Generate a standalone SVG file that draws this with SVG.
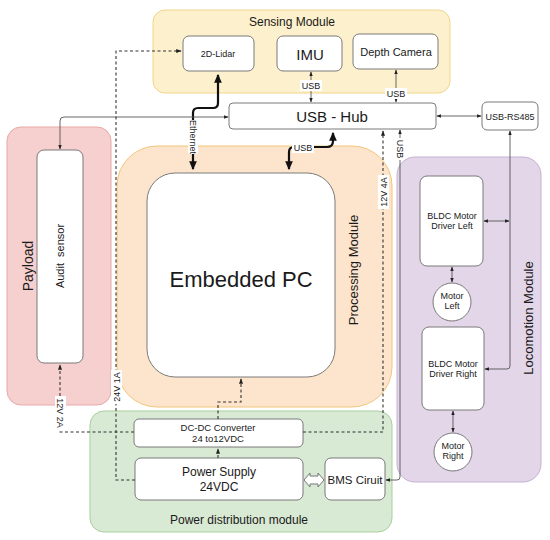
<svg xmlns="http://www.w3.org/2000/svg" width="550" height="540" viewBox="0 0 550 540">
<style>
text{font-family:"Liberation Sans",Arial,sans-serif;fill:#1a1a1a}
.box{fill:#fff;stroke:#7a7a7a;stroke-width:1}
.thin{fill:none;stroke:#555;stroke-width:0.9}
.dash{fill:none;stroke:#333;stroke-width:1.1;stroke-dasharray:3,2.5}
.thick{fill:none;stroke:#111;stroke-width:2.2}
.lbl{font-size:9px;text-anchor:middle}
.lblbg{fill:#fff}
</style>
<defs>
<marker id="a" viewBox="0 0 8 8" refX="7" refY="4" markerWidth="5" markerHeight="5" orient="auto-start-reverse"><path d="M0,1 L8,4 L0,7 Z" fill="#222"/></marker>
<marker id="ab" viewBox="0 0 8 8" refX="7" refY="4" markerWidth="4" markerHeight="4" orient="auto-start-reverse"><path d="M0,0.5 L8,4 L0,7.5 Z" fill="#111"/></marker>
</defs>

<g id="sensing-module">
<rect x="153" y="10" width="297" height="83" rx="12" fill="#fdf0cc" stroke="#f0d68a"/>
<text x="292" y="26" font-size="12" text-anchor="middle">Sensing Module</text>
</g>
<g id="payload">
<rect x="7" y="127" width="104" height="278" rx="14" fill="#f6cfcf" stroke="#e8a7a7"/>
<text transform="translate(33,266) rotate(-90)" font-size="14" text-anchor="middle">Payload</text>
</g>
<g id="processing-module">
<rect x="117" y="146" width="275" height="261" rx="40" fill="#fde5cd" stroke="#f2c67a"/>
<text transform="translate(358,270) rotate(-90)" font-size="13" text-anchor="middle">Processing Module</text>
</g>
<g id="locomotion-module">
<rect x="397" y="157" width="144" height="325" rx="18" fill="#e3d6e8" stroke="#c4b0d0"/>
<text transform="translate(533,318) rotate(-90)" font-size="13" text-anchor="middle">Locomotion Module</text>
</g>
<g id="power-module">
<rect x="90" y="411" width="302" height="121" rx="14" fill="#d8e9d4" stroke="#a9cf9c"/>
<text x="239" y="524" font-size="12" text-anchor="middle">Power distribution module</text>
</g>

<g id="lidar"><rect class="box" x="183" y="36" width="71" height="35" rx="6"/><text x="218" y="57" font-size="9" text-anchor="middle">2D-Lidar</text></g>
<g id="imu"><rect class="box" x="277" y="36" width="65" height="35" rx="6"/><text x="310" y="60" font-size="15" text-anchor="middle">IMU</text></g>
<g id="depth-camera"><rect class="box" x="353" y="34" width="85" height="35" rx="6"/><text x="396" y="56" font-size="11" text-anchor="middle">Depth Camera</text></g>
<g id="usb-hub"><rect class="box" x="229" y="103" width="207" height="26" rx="4"/><text x="332" y="122" font-size="15" text-anchor="middle">USB - Hub</text></g>
<g id="usb-rs485"><rect class="box" x="482" y="102" width="56" height="28" rx="5"/><text x="510" y="120" font-size="9" text-anchor="middle">USB-RS485</text></g>
<g id="audit-sensor"><rect class="box" x="37" y="150" width="46" height="213" rx="7"/><text transform="translate(64,256) rotate(-90)" font-size="11" text-anchor="middle">Audit&#160; sensor</text></g>
<g id="embedded-pc"><rect class="box" x="147" y="173" width="188" height="204" rx="28"/><text x="241" y="287" font-size="22" text-anchor="middle">Embedded PC</text></g>
<g id="driver-left"><rect class="box" x="420" y="176" width="63" height="90" rx="7"/><text x="452" y="219" font-size="9" text-anchor="middle">BLDC Motor</text><text x="452" y="229" font-size="9" text-anchor="middle">Driver Left</text></g>
<g id="motor-left"><circle class="box" cx="452" cy="302" r="19"/><text x="452" y="299" font-size="9" text-anchor="middle">Motor</text><text x="452" y="309" font-size="9" text-anchor="middle">Left</text></g>
<g id="driver-right"><rect class="box" x="422" y="327" width="62" height="83" rx="7"/><text x="453" y="367" font-size="9" text-anchor="middle">BLDC Motor</text><text x="453" y="377" font-size="9" text-anchor="middle">Driver Right</text></g>
<g id="motor-right"><circle class="box" cx="453" cy="452" r="19"/><text x="453" y="449" font-size="9" text-anchor="middle">Motor</text><text x="453" y="459" font-size="9" text-anchor="middle">Right</text></g>
<g id="dcdc"><rect class="box" x="134" y="419" width="169" height="28" rx="5"/><text x="218" y="431" font-size="9.5" text-anchor="middle">DC-DC Converter</text><text x="218" y="442" font-size="9.5" text-anchor="middle">24 to12VDC</text></g>
<g id="power-supply"><rect class="box" x="135" y="458" width="168" height="42" rx="6"/><text x="219" y="476" font-size="12" text-anchor="middle">Power Supply</text><text x="219" y="491" font-size="12" text-anchor="middle">24VDC</text></g>
<g id="bms"><rect class="box" x="325" y="458" width="60" height="42" rx="6"/><text x="355" y="484" font-size="11.5" text-anchor="middle">BMS Ciruit</text></g>

<g id="connectors">
<path class="thick" d="M218,75 V103 Q218,108 213,108 H198 Q193,108 193,113 V169" marker-start="url(#ab)" marker-end="url(#ab)"/>
<rect class="lblbg" x="188" y="120" width="10" height="34"/>
<text transform="translate(190,137) rotate(90)" class="lbl">Ethernet</text>
<path class="thick" d="M333,133 V141 Q333,147 327,147 H294 Q289,147 289,152 V169" marker-start="url(#ab)" marker-end="url(#ab)"/>
<rect class="lblbg" x="292" y="142" width="22" height="11"/>
<text x="303" y="151" class="lbl">USB</text>
<path class="thin" d="M311,72 V102" marker-start="url(#a)" marker-end="url(#a)"/>
<rect class="lblbg" x="300" y="80" width="22" height="11"/>
<text x="311" y="89" class="lbl">USB</text>
<path class="thin" d="M396,70 V102" marker-start="url(#a)" marker-end="url(#a)"/>
<rect class="lblbg" x="385" y="88" width="22" height="11"/>
<text x="396" y="97" class="lbl">USB</text>
<path class="thin" d="M228,117 H64 Q60,117 60,121 V149" marker-start="url(#a)" marker-end="url(#a)"/>
<path class="thin" d="M437,116 H481" marker-start="url(#a)" marker-end="url(#a)"/>
<path class="thin" d="M510,131 V366 Q510,369 507,369 H485" marker-start="url(#a)" marker-end="url(#a)"/>
<path class="thin" d="M484,221 H509" marker-start="url(#a)" marker-end="url(#a)"/>
<path class="thin" d="M452,267 V282" marker-start="url(#a)" marker-end="url(#a)"/>
<path class="thin" d="M453,411 V432" marker-start="url(#a)" marker-end="url(#a)"/>
<path class="thin" d="M400,130 V477 Q400,480 397,480 H386" marker-start="url(#a)" marker-end="url(#a)"/>
<rect class="lblbg" x="395" y="138" width="10" height="22"/>
<text transform="translate(397,149) rotate(90)" class="lbl">USB</text>
<path class="dash" d="M303,432 H383 V131" marker-end="url(#a)"/>
<rect class="lblbg" x="378" y="175" width="11" height="34"/>
<text transform="translate(387,192) rotate(-90)" class="lbl">12V 4A</text>
<path class="dash" d="M135,480 H116 V51 H181" marker-end="url(#a)"/>
<rect class="lblbg" x="111" y="370" width="11" height="34"/>
<text transform="translate(120,387) rotate(-90)" class="lbl">24V 1A</text>
<path class="dash" d="M134,432 H60 V365" marker-end="url(#a)"/>
<rect class="lblbg" x="55" y="396" width="11" height="34"/>
<text transform="translate(57,413) rotate(90)" class="lbl">12V 2A</text>
<path class="dash" d="M218,419 V402 H241 V379" marker-end="url(#a)"/>
<path class="dash" d="M218,458 V449" marker-end="url(#a)"/>
<path d="M304,480 L310,473 V476 H318 V473 L324,480 L318,487 V484 H310 V487 Z" fill="#fff" stroke="#777" stroke-width="1"/>
</g>
</svg>
